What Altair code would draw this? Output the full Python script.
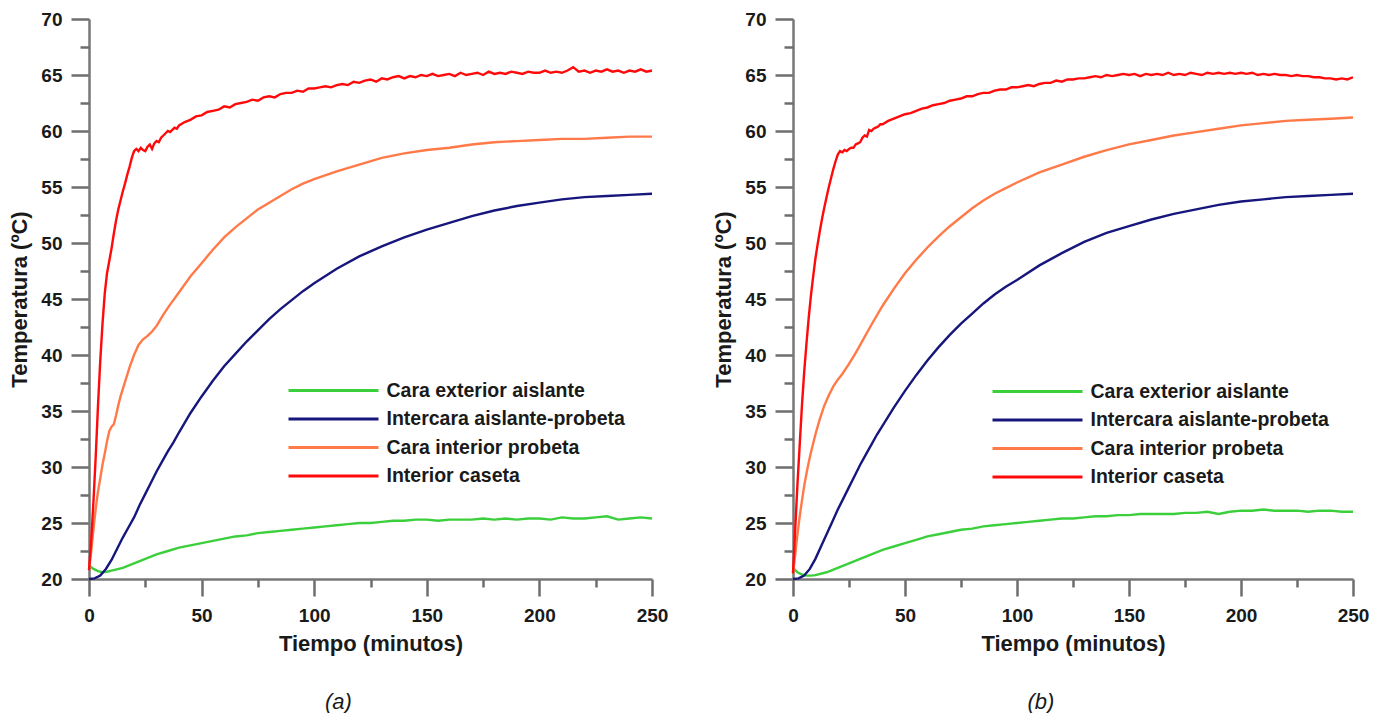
import altair as alt
import pandas as pd

series_names = ["Cara exterior aislante", "Intercara aislante-probeta",
                "Cara interior probeta", "Interior caseta"]
series_colors = ["#3ccf3c", "#16167c", "#ff7a48", "#ff0a0a"]

x_major = [0, 50, 100, 150, 200, 250]
x_minor = [25, 75, 125, 175, 225]
y_major = [20, 25, 30, 35, 40, 45, 50, 55, 60, 65, 70]
y_minor = [22.5, 27.5, 32.5, 37.5, 42.5, 47.5, 52.5, 57.5, 62.5, 67.5]

a_green_t = [0, 2, 4, 6, 8, 10, 15, 20, 25, 30, 35, 40, 45, 50, 55, 60, 65, 70, 75, 80,
             85, 90, 95, 100, 105, 110, 115, 120, 125, 130, 135, 140, 145, 150, 155, 160,
             165, 170, 175, 180, 185, 190, 195, 200, 205, 210, 215, 220, 225, 230, 235,
             240, 245, 250]
a_green_v = [21.2, 20.9, 20.7, 20.6, 20.65, 20.75, 21.0, 21.4, 21.8, 22.2, 22.5, 22.8,
             23.0, 23.2, 23.4, 23.6, 23.8, 23.9, 24.1, 24.2, 24.3, 24.4, 24.5, 24.6, 24.7,
             24.8, 24.9, 25.0, 25.0, 25.1, 25.2, 25.2, 25.3, 25.3, 25.2, 25.3, 25.3, 25.3,
             25.4, 25.3, 25.4, 25.3, 25.4, 25.4, 25.3, 25.5, 25.4, 25.4, 25.5, 25.6, 25.3,
             25.4, 25.5, 25.4]

a_blue_t = [0, 2.5, 5, 7.5, 10, 12.5, 15, 17.5, 20, 22.5, 25, 27.5, 30, 32.5, 35, 37.5,
            40, 45, 50, 55, 60, 65, 70, 75, 80, 85, 90, 95, 100, 110, 120, 130, 140, 150,
            160, 170, 180, 190, 200, 210, 220, 230, 240, 250]
a_blue_v = [20.0, 20.05, 20.3, 20.9, 21.7, 22.7, 23.7, 24.6, 25.5, 26.6, 27.6, 28.6,
            29.6, 30.5, 31.4, 32.2, 33.1, 34.8, 36.3, 37.7, 39.0, 40.1, 41.2, 42.2, 43.2,
            44.1, 44.9, 45.7, 46.4, 47.7, 48.8, 49.7, 50.5, 51.2, 51.8, 52.4, 52.9, 53.3,
            53.6, 53.9, 54.1, 54.2, 54.3, 54.4]

a_orange_t = [0, 1, 2, 3, 4, 5, 6, 7, 8, 9, 10, 11, 12, 13, 14, 16, 18, 20, 22, 24, 26,
              28, 30, 33, 36, 40, 45, 50, 55, 60, 65, 70, 75, 80, 85, 90, 95, 100, 110,
              120, 130, 140, 150, 160, 170, 180, 190, 200, 210, 220, 230, 240, 250]
a_orange_v = [20.8, 22.5, 24.5, 26.3, 27.8, 29.0, 30.2, 31.2, 32.3, 33.2, 33.6, 33.8,
              34.6, 35.5, 36.3, 37.6, 38.9, 40.0, 40.9, 41.4, 41.7, 42.1, 42.6, 43.6, 44.5,
              45.6, 47.0, 48.2, 49.4, 50.5, 51.4, 52.2, 53.0, 53.6, 54.2, 54.8, 55.3, 55.7,
              56.4, 57.0, 57.6, 58.0, 58.3, 58.5, 58.8, 59.0, 59.1, 59.2, 59.3, 59.3, 59.4,
              59.5, 59.5]

red_t = [0, 1, 2, 3, 4, 5, 6, 7, 8, 9, 10, 11, 12, 13, 14, 15, 16, 17, 18, 19, 20, 21,
         22, 23, 24, 25, 26, 27, 28, 29, 30, 31, 32, 33, 34, 35, 36, 37, 38, 39, 40,
         42.5, 45, 47.5, 50, 52.5, 55, 57.5, 60, 62.5, 65, 67.5, 70, 72.5, 75, 77.5, 80,
         82.5, 85, 87.5, 90, 92.5, 95, 97.5, 100, 102.5, 105, 107.5, 110, 112.5, 115,
         117.5, 120, 122.5, 125, 127.5, 130, 132.5, 135, 137.5, 140, 142.5, 145, 147.5,
         150, 152.5, 155, 157.5, 160, 162.5, 165, 167.5, 170, 172.5, 175, 177.5, 180,
         182.5, 185, 187.5, 190, 192.5, 195, 197.5, 200, 202.5, 205, 207.5, 210, 212.5,
         215, 217.5, 220, 222.5, 225, 227.5, 230, 232.5, 235, 237.5, 240, 242.5, 245,
         247.5, 250]
a_red_v = [20.8, 23.5, 27.0, 31.0, 35.5, 39.5, 42.8, 45.5, 47.3, 48.4, 49.5, 50.8, 52.0,
           53.0, 53.8, 54.6, 55.3, 56.1, 56.8, 57.6, 58.2, 58.4, 58.2, 58.5, 58.3, 58.2,
           58.6, 58.8, 58.4, 58.9, 59.1, 59.0, 59.4, 59.6, 59.8, 60.0, 59.9, 60.1, 60.3,
           60.2, 60.5,
           60.8, 61.0, 61.3, 61.4, 61.7, 61.8, 61.9, 62.2, 62.1, 62.4,
           62.5, 62.6, 62.8, 62.7, 63.0, 63.1, 63.0, 63.3, 63.4, 63.4,
           63.6, 63.5, 63.8, 63.8, 63.9, 64.0, 63.9, 64.1, 64.2, 64.1,
           64.4, 64.3, 64.5, 64.6, 64.4, 64.7, 64.6, 64.8, 64.9, 64.7,
           64.9, 64.8, 65.0, 64.9, 65.1, 64.9, 65.0, 65.1, 64.9, 65.2,
           65.0, 65.1, 65.2, 65.0, 65.3, 65.1, 65.2, 65.1, 65.3, 65.2,
           65.1, 65.3, 65.2, 65.2, 65.4, 65.2, 65.3, 65.2, 65.4, 65.7,
           65.3, 65.4, 65.2, 65.4, 65.3, 65.5, 65.3, 65.4, 65.2, 65.4,
           65.3, 65.5, 65.3, 65.4]

b_green_t = a_green_t
b_green_v = [21.0, 20.6, 20.4, 20.3, 20.3, 20.35, 20.6, 21.0, 21.4, 21.8, 22.2, 22.6,
             22.9, 23.2, 23.5, 23.8, 24.0, 24.2, 24.4, 24.5, 24.7, 24.8, 24.9, 25.0, 25.1,
             25.2, 25.3, 25.4, 25.4, 25.5, 25.6, 25.6, 25.7, 25.7, 25.8, 25.8, 25.8, 25.8,
             25.9, 25.9, 26.0, 25.8, 26.0, 26.1, 26.1, 26.2, 26.1, 26.1, 26.1, 26.0, 26.1,
             26.1, 26.0, 26.0]

b_blue_t = a_blue_t
b_blue_v = [20.0, 20.05, 20.3, 20.9, 21.8, 22.9, 24.0, 25.1, 26.2, 27.2, 28.2, 29.2,
            30.2, 31.1, 32.0, 32.9, 33.7, 35.3, 36.8, 38.2, 39.5, 40.7, 41.8, 42.8, 43.7,
            44.6, 45.4, 46.1, 46.7, 48.0, 49.1, 50.1, 50.9, 51.5, 52.1, 52.6, 53.0, 53.4,
            53.7, 53.9, 54.1, 54.2, 54.3, 54.4]

b_orange_t = [0, 1, 2, 3, 4, 5, 6, 7, 8, 9, 10, 11, 12, 13, 14, 16, 18, 20, 22, 25, 28,
              30, 35, 40, 45, 50, 55, 60, 65, 70, 75, 80, 85, 90, 95, 100, 110, 120, 130,
              140, 150, 160, 170, 180, 190, 200, 210, 220, 230, 240, 250]
b_orange_v = [20.5, 22.2, 24.0, 25.6, 27.0, 28.3, 29.4, 30.4, 31.3, 32.1, 32.9, 33.6,
              34.3, 34.9, 35.5, 36.4, 37.2, 37.8, 38.3, 39.2, 40.2, 40.9, 42.7, 44.4, 45.9,
              47.3, 48.5, 49.6, 50.6, 51.5, 52.3, 53.1, 53.8, 54.4, 54.9, 55.4, 56.3, 57.0,
              57.7, 58.3, 58.8, 59.2, 59.6, 59.9, 60.2, 60.5, 60.7, 60.9, 61.0, 61.1, 61.2]

b_red_v = [20.5, 24.5, 28.5, 32.0, 35.5, 38.5, 41.0, 43.3, 45.3, 47.0, 48.6, 49.9, 51.1,
           52.2, 53.2, 54.1, 55.0, 55.8, 56.6, 57.3, 57.9, 58.2, 58.1, 58.3, 58.2, 58.4,
           58.5, 58.5, 58.8, 58.9, 59.0, 59.4, 59.6, 59.5, 60.1, 60.0, 60.2, 60.3, 60.4,
           60.6, 60.6,
           60.9, 61.1, 61.3, 61.5, 61.6, 61.8, 62.0, 62.1, 62.3, 62.4,
           62.5, 62.7, 62.8, 62.9, 63.1, 63.1, 63.3, 63.4, 63.4, 63.6,
           63.7, 63.7, 63.9, 63.9, 64.0, 64.1, 64.0, 64.2, 64.3, 64.3,
           64.5, 64.4, 64.6, 64.6, 64.7, 64.7, 64.8, 64.9, 64.8, 65.0,
           64.9, 65.0, 65.1, 65.0, 65.1, 64.9, 65.1, 65.0, 65.1, 65.0,
           65.2, 65.0, 65.1, 65.0, 65.2, 65.1, 65.0, 65.2, 65.1, 65.2,
           65.1, 65.2, 65.1, 65.2, 65.1, 65.2, 65.0, 65.1, 65.0, 65.1,
           65.0, 65.0, 64.9, 65.0, 64.9, 64.9, 64.8, 64.8, 64.7, 64.7,
           64.6, 64.7, 64.6, 64.8]


def build(parts):
    frames = []
    for name, t, v in parts:
        d = pd.DataFrame({"t": t, "v": v})
        d["serie"] = name
        frames.append(d)
    return pd.concat(frames, ignore_index=True)


df_a = build([(series_names[0], a_green_t, a_green_v),
              (series_names[1], a_blue_t, a_blue_v),
              (series_names[2], a_orange_t, a_orange_v),
              (series_names[3], red_t, a_red_v)])
df_b = build([(series_names[0], b_green_t, b_green_v),
              (series_names[1], b_blue_t, b_blue_v),
              (series_names[2], b_orange_t, b_orange_v),
              (series_names[3], red_t, b_red_v)])

FONT = "Liberation Sans"
TICK = "#6e6e6e"
x_scale = alt.Scale(domain=[0, 250], nice=False, zero=False)
y_scale = alt.Scale(domain=[20, 70], nice=False, zero=False)


def panel(df, caption, width, lx, ly):
    base = alt.Chart(df)
    lines = base.mark_line(strokeWidth=2.4).encode(
        x=alt.X("t:Q", scale=x_scale,
                axis=alt.Axis(values=x_major, title="Tiempo (minutos)", orient="bottom",
                              ticks=True, tickSize=17, tickWidth=2.5, tickColor=TICK,
                              labelPadding=10, titlePadding=8,
                              labelFlush=False, labelOverlap=False)),
        y=alt.Y("v:Q", scale=y_scale,
                axis=alt.Axis(values=y_major, title="Temperatura (ºC)", orient="left",
                              ticks=True, tickSize=18, tickWidth=2.5, tickColor=TICK,
                              labelPadding=9, titlePadding=9,
                              labelFlush=False, labelOverlap=False)),
        color=alt.Color("serie:N",
                        scale=alt.Scale(domain=series_names, range=series_colors),
                        legend=alt.Legend(orient="none", legendX=lx, legendY=ly, title=None,
                                          symbolType="M-4.5,0H4.5", symbolSize=400,
                                          symbolStrokeWidth=3, labelOffset=41.5,
                                          labelFont=FONT, labelFontSize=19.5,
                                          labelFontWeight="bold", labelColor="#1a1a1a",
                                          rowPadding=7.5, padding=0, labelLimit=500)),
    )
    minor = base.mark_line(opacity=0).encode(
        x=alt.X("t:Q", scale=x_scale,
                axis=alt.Axis(values=x_minor, title=None, orient="bottom", labels=False,
                              domain=False, ticks=True, tickSize=8, tickWidth=2.5,
                              tickColor=TICK)),
        y=alt.Y("v:Q", scale=y_scale,
                axis=alt.Axis(values=y_minor, title=None, orient="left", labels=False,
                              domain=False, ticks=True, tickSize=9, tickWidth=2.5,
                              tickColor=TICK)),
        detail="serie:N",
    )
    return alt.layer(lines, minor).resolve_axis(
        x="independent", y="independent"
    ).properties(
        width=width, height=560,
        title=alt.TitleParams(caption, orient="bottom", anchor="middle", frame="bounds",
                              offset=38, font=FONT, fontSize=22, fontStyle="italic",
                              fontWeight="normal", color="#1a1a1a")
    )


left = panel(df_a, "(a)", 563, 233, 360)
right = panel(df_b, "(b)", 560, 233, 361)

chart = alt.hconcat(left, right, spacing=141, bounds="flush").resolve_scale(
    color="independent"
).properties(
    padding={"left": 0, "top": 2, "right": 5, "bottom": 0}
).configure_view(strokeWidth=0).configure_axis(
    grid=False, domainColor="#777777", domainWidth=2.5,
    labelFont=FONT, labelFontSize=19, labelFontWeight="bold", labelColor="#1a1a1a",
    titleFont=FONT, titleFontSize=22, titleFontWeight="bold", titleColor="#1a1a1a"
)

chart.save("out.html", embed_options={"renderer": "svg", "actions": False})
